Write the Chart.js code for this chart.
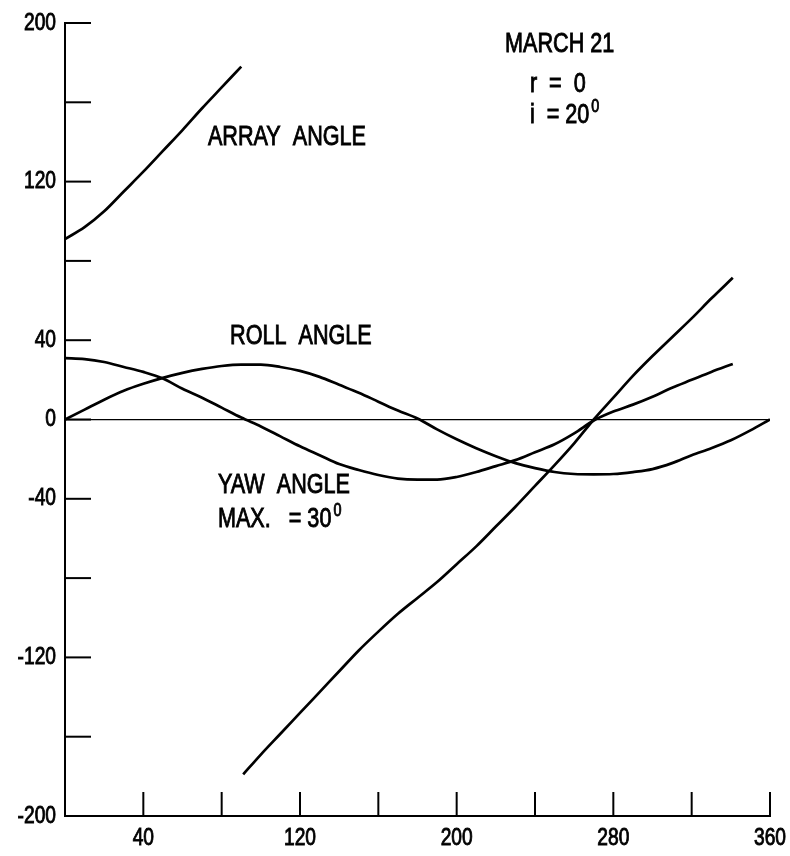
<!DOCTYPE html>
<html>
<head>
<meta charset="utf-8">
<script src="https://cdn.jsdelivr.net/npm/chart.js@4"></script>
<style>
  body { margin: 0; background: #fff; }
  #wrap { width: 790px; height: 856px; }
</style>
</head>
<body>
<div id="wrap"><canvas id="chartAngles" width="790" height="856"></canvas></div>
<script>
// Angulos vs posicion orbital, 21 de marzo
const FONT = '"Liberation Sans", Arial, sans-serif'
const SQUEEZE = 0.8   // letra estrecha como en el original

const xLabels = [40, 120, 200, 280, 360]
const yLabels = [200, 120, 40, 0, -40, -120, -200]

// array angle, antes y despues del salto 180 -> -180
const arrayX1 = [0, 10, 20, 30, 40, 50, 60, 70, 80, 90]
const arrayY1 = [91, 97, 105, 115, 125, 135.5, 146, 157, 167.5, 178]
const arrayX2 = [91, 100, 110, 120, 130, 140, 150, 160, 170, 180, 190, 200, 210, 220, 230, 240, 250, 260, 270, 280, 290, 300, 310, 320, 330, 341]
const arrayY2 = [-179, -169, -158.5, -148, -137.5, -127, -116.5, -107, -98, -90, -82, -73, -64, -54, -44, -33.5, -23, -12, 0, 11, 22, 32, 41.5, 51, 61, 71.5]

// roll angle (empieza en 0)
const rollX = [0, 10, 20, 30, 40, 50, 60, 70, 80, 90, 100, 110, 120, 130, 140, 150, 160, 170, 180, 190, 200, 210, 220, 230, 240, 250, 260, 270, 280, 290, 300, 310, 320, 330, 340, 350, 360]
const rollY = [0, 5, 10, 14.5, 18, 21, 23.5, 25.5, 27, 27.7, 27.7, 26.5, 24.5, 21.5, 17.5, 13.5, 9, 4.5, 0.5, -5, -10, -14.5, -18.5, -22, -24.5, -26.5, -27.5, -27.7, -27.5, -26.5, -25, -22, -18, -14.5, -10.5, -5.5, 0]

// yaw angle (max 30)
const yawX = [0, 10, 20, 30, 40, 50, 60, 70, 80, 90, 100, 110, 120, 130, 140, 150, 160, 170, 180, 190, 200, 210, 220, 230, 240, 250, 260, 270, 280, 290, 300, 310, 320, 330, 341]
const yawY = [31, 30.5, 29, 26.5, 24, 20.7, 15.5, 11, 6, 1, -3.5, -8.5, -13.5, -18, -22.5, -25.5, -28, -29.8, -30.3, -30.3, -29, -26.5, -23.5, -20.5, -16.5, -12.5, -7, -0.5, 4, 7.5, 11.5, 16, 20, 24, 28]

const toPoints = (xs, ys) => xs.map((x, i) => ({ x: x, y: ys[i] }))

const curve = (xs, ys) => ({
  data: toPoints(xs, ys),
  showLine: true,
  borderColor: '#000',
  borderWidth: 2.7,
  pointRadius: 0,
  cubicInterpolationMode: 'monotone',
  fill: false
})

// textos (posicion en unidades de datos)
const notes = [
  { text: 'MARCH 21', x: 224.7, y: 185.4 },
  { text: 'r  =  0', x: 237.4, y: 165.2 },
  { text: 'i  = 20', x: 237.4, y: 149.6, sup: '0' },
  { text: 'ARRAY  ANGLE', x: 73, y: 138.5 },
  { text: 'ROLL  ANGLE', x: 84.3, y: 38.1 },
  { text: 'YAW  ANGLE', x: 78.1, y: -37.1 },
  { text: 'MAX.   = 30', x: 78.1, y: -54.2, sup: '0' }
]

// texto estrecho y algo grueso
function narrowText(ctx, txt, x, y, align) {
  ctx.save()
  ctx.translate(x, y)
  ctx.scale(SQUEEZE, 1)
  ctx.textAlign = align || 'left'
  ctx.lineWidth = 0.9
  ctx.strokeStyle = '#000'
  ctx.fillText(txt, 0, 0)
  ctx.strokeText(txt, 0, 0)
  ctx.restore()
}

const ticksAndNotes = {
  id: 'ticksAndNotes',
  afterDraw(chart) {
    const ctx = chart.ctx
    const sx = chart.scales.x
    const sy = chart.scales.y
    const area = chart.chartArea
    ctx.save()
    ctx.strokeStyle = '#000'
    ctx.lineWidth = 2
    sx.ticks.forEach(t => {
      if (t.value === sx.min) return
      const px = sx.getPixelForValue(t.value)
      ctx.beginPath()
      ctx.moveTo(px, area.bottom)
      ctx.lineTo(px, area.bottom - 24)
      ctx.stroke()
    })
    sy.ticks.forEach(t => {
      if (t.value === sy.min) return
      const py = sy.getPixelForValue(t.value)
      ctx.beginPath()
      ctx.moveTo(area.left, py)
      ctx.lineTo(area.left + 26, py)
      ctx.stroke()
    })

    ctx.fillStyle = '#000'
    ctx.font = '24px ' + FONT
    ctx.textBaseline = 'middle'
    yLabels.forEach(v => {
      narrowText(ctx, String(v), area.left - 9, sy.getPixelForValue(v), 'right')
    })
    ctx.textBaseline = 'top'
    xLabels.forEach(v => {
      narrowText(ctx, String(v), sx.getPixelForValue(v), area.bottom + 10, 'center')
    })

    ctx.textBaseline = 'alphabetic'
    notes.forEach(n => {
      const px = sx.getPixelForValue(n.x)
      const py = sy.getPixelForValue(n.y)
      ctx.font = '27px ' + FONT
      narrowText(ctx, n.text, px, py)
      if (n.sup) {
        const w = ctx.measureText(n.text).width * SQUEEZE
        ctx.font = '18px ' + FONT
        narrowText(ctx, n.sup, px + w + 2, py - 11)
      }
    })
    ctx.restore()
  }
}

new Chart(document.getElementById('chartAngles'), {
  type: 'scatter',
  data: {
    datasets: [
      curve(arrayX1, arrayY1),
      curve(arrayX2, arrayY2),
      curve(rollX, rollY),
      curve(yawX, yawY)
    ]
  },
  plugins: [ticksAndNotes],
  options: {
    responsive: false,
    animation: false,
    layout: { padding: { top: 23, right: 20, bottom: 0, left: 0 } },
    plugins: {
      legend: { display: false },
      tooltip: { enabled: false }
    },
    scales: {
      x: {
        type: 'linear',
        min: 0,
        max: 360,
        afterFit: s => { s.height = 40 },
        border: { display: true, color: '#000', width: 2 },
        grid: { display: false },
        ticks: { stepSize: 40, autoSkip: false, display: false }
      },
      y: {
        type: 'linear',
        min: -200,
        max: 200,
        afterFit: s => { s.width = 65 },
        border: { display: true, color: '#000', width: 2 },
        grid: {
          drawTicks: false,
          lineWidth: 1.2,
          color: c => c.tick && c.tick.value === 0 ? '#000' : 'rgba(0,0,0,0)'
        },
        ticks: { stepSize: 40, autoSkip: false, display: false }
      }
    }
  }
})
</script>
</body>
</html>
